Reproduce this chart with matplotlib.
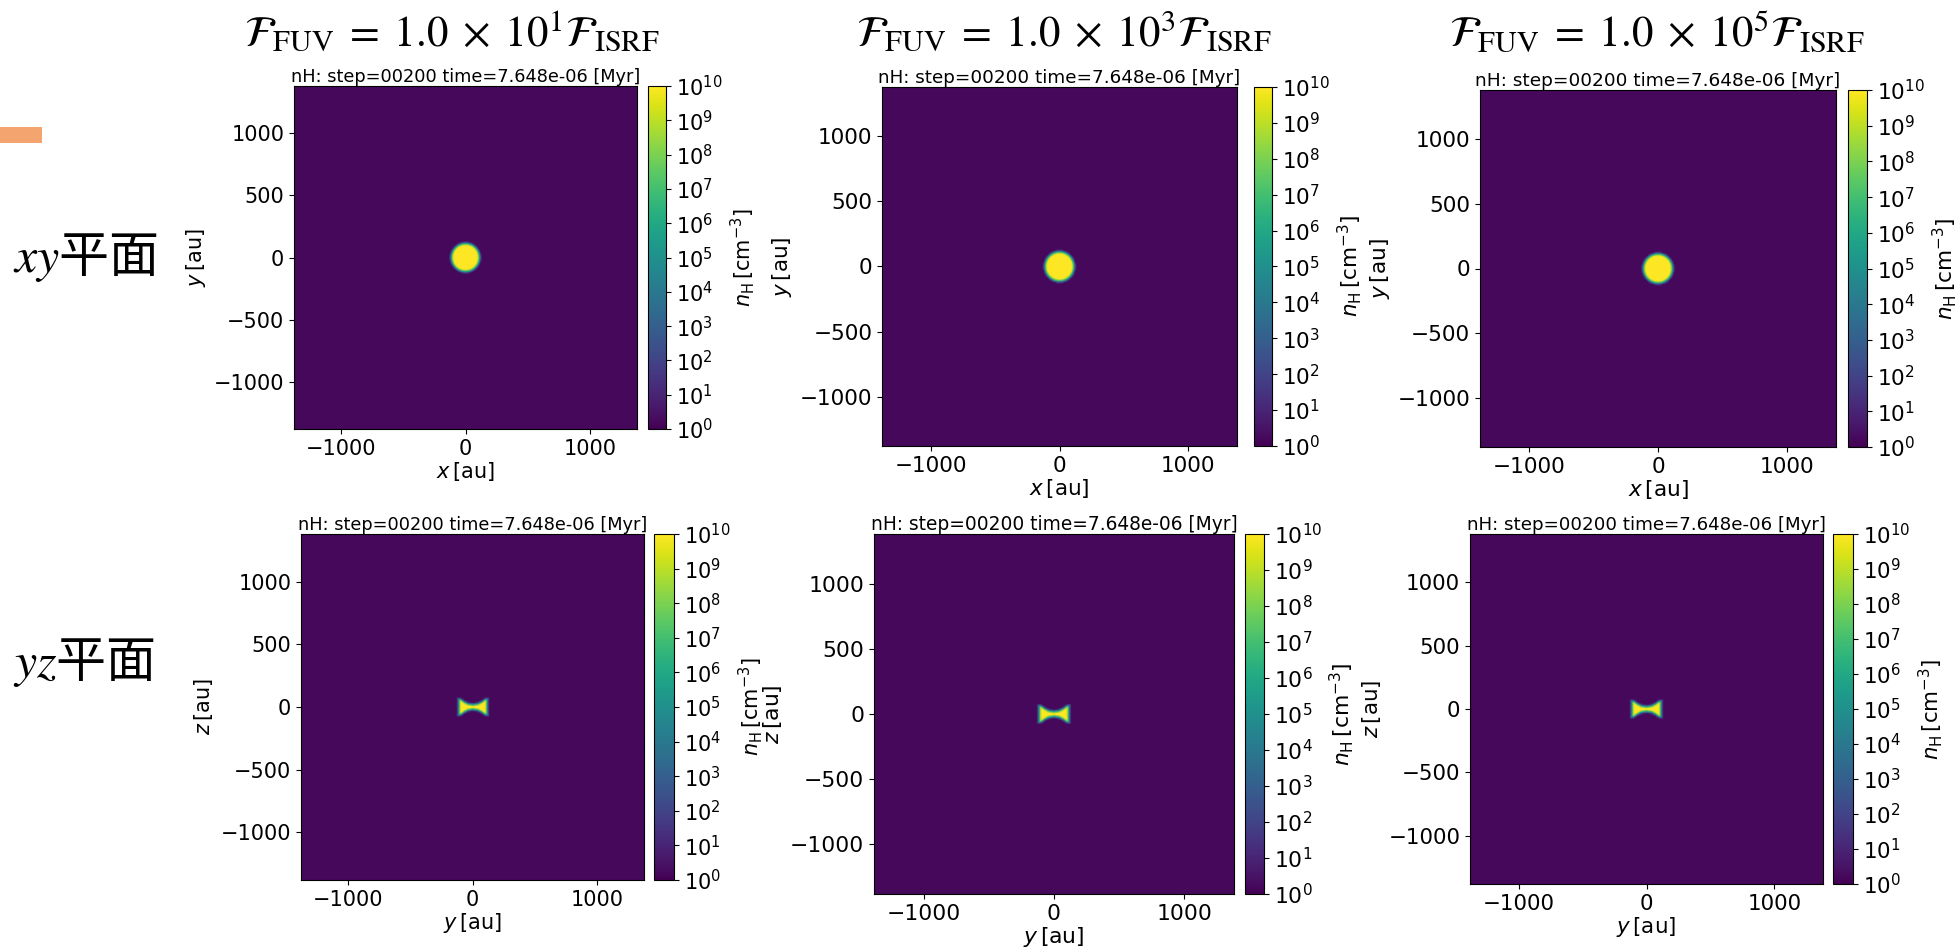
import numpy as np
import matplotlib.pyplot as plt
from matplotlib.colors import LogNorm
from matplotlib.patches import Rectangle

# ---- chart text / values ----
fuv_exp = [1, 3, 5]
sim_title = "nH: step=00200 time=7.648e-06 [Myr]"
row_names = [r"$xy$平面", r"$yz$平面"]
xlabels = [r"$x\,[\mathrm{au}]$", r"$y\,[\mathrm{au}]$"]
ylabels = [r"$y\,[\mathrm{au}]$", r"$z\,[\mathrm{au}]$"]
cbar_label = r"$n_\mathrm{H}\,[\mathrm{cm}^{-3}]$"
xticks = [-1000, 0, 1000]
yticks = [-1000, -500, 0, 500, 1000]
cbar_decades = list(range(0, 11))

box_half = 1380          # au, half size of the map
n_min, n_max = 1e0, 1e10

# density fall-off across the clump edge: distance from edge [au] -> log10 nH
edge_dist = [-40, -6, 0, 10, 19, 28]
edge_logn = [11.5, 10.3, 9.0, 6.0, 3.0, 0.2]

# xy plane: round core
core_radius = 102

# yz plane: flared disc, half thickness vs |y|
disc_y = [0, 40, 70, 95, 102]
disc_h = [7, 13, 28, 46, 48]
disc_radius = 102

# ---- build the maps ----
cells = 256
c = np.linspace(-box_half, box_half, cells)
X, Y = np.meshgrid(c, c)
d_xy = np.hypot(X, Y) - core_radius
h = np.interp(np.abs(X), disc_y, disc_h)
d_yz = np.maximum(np.abs(X) - disc_radius, np.abs(Y) - h)
maps = [10 ** np.interp(d_xy, edge_dist, edge_logn),
        10 ** np.interp(d_yz, edge_dist, edge_logn)]

# ---- layout in pixels of the 1957x950 slide ----
W, H = 1957, 950
boxes = [
    [(294, 86, 637, 429, 648, 666), (882, 87, 1237, 446, 1254, 1272), (1480, 90, 1836, 447, 1848, 1867)],
    [(301, 534, 644, 880, 654, 674), (874, 534, 1234, 894, 1245, 1264), (1470, 534, 1823, 884, 1833, 1853)],
]


def fbox(x0, y0, x1, y1):
    return [x0 / W, 1 - y1 / H, (x1 - x0) / W, (y1 - y0) / H]


fig = plt.figure(figsize=(W / 100, H / 100), dpi=100)
fig.patch.set_facecolor('white')

for r in range(2):
    for col in range(3):
        x0, y0, x1, y1, cx0, cx1 = boxes[r][col]
        s = (x1 - x0) / 343
        ax = fig.add_axes(fbox(x0, y0, x1, y1))
        cax = fig.add_axes(fbox(cx0, y0, cx1, y1))
        im = ax.imshow(maps[r], origin='lower', cmap='viridis', aspect='auto',
                       norm=LogNorm(n_min, n_max), interpolation='bilinear',
                       extent=[-box_half, box_half, -box_half, box_half])
        ax.set_xticks(xticks)
        ax.set_yticks(yticks)
        ax.tick_params(labelsize=15 * s)
        ax.set_xlabel(xlabels[r], fontsize=15 * s, labelpad=1)
        ax.set_ylabel(ylabels[r], fontsize=15 * s)
        ax.set_title(sim_title, fontsize=12.8 * s, pad=3)
        cb = fig.colorbar(im, cax=cax)
        cb.set_ticks([10.0 ** k for k in cbar_decades])
        cb.ax.minorticks_off()
        cb.ax.tick_params(labelsize=15 * s)
        cb.set_label(cbar_label, fontsize=15 * s)

# column titles
col_cx = [452, 1064, 1657]
for col in range(3):
    fig.text(col_cx[col] / W, 1 - 46 / H,
             r"$\mathcal{F}_\mathrm{FUV}\;=\;1.0\;\times\;10^{%d}\mathcal{F}_\mathrm{ISRF}$" % fuv_exp[col],
             ha='center', va='baseline', fontsize=31, math_fontfamily='stix')

# row labels
row_y = [272, 677]
for r in range(2):
    fig.text(13 / W, 1 - row_y[r] / H, row_names[r], ha='left', va='baseline',
             fontsize=36, family=['Noto Sans CJK JP', 'DejaVu Sans'], math_fontfamily='stix')

# orange bar from the slide
fig.add_artist(Rectangle((0, 1 - 143 / H), 42 / W, 16 / H, transform=fig.transFigure,
                         color='#F4A46E', lw=0))

fig.savefig('out.png', dpi=100)
